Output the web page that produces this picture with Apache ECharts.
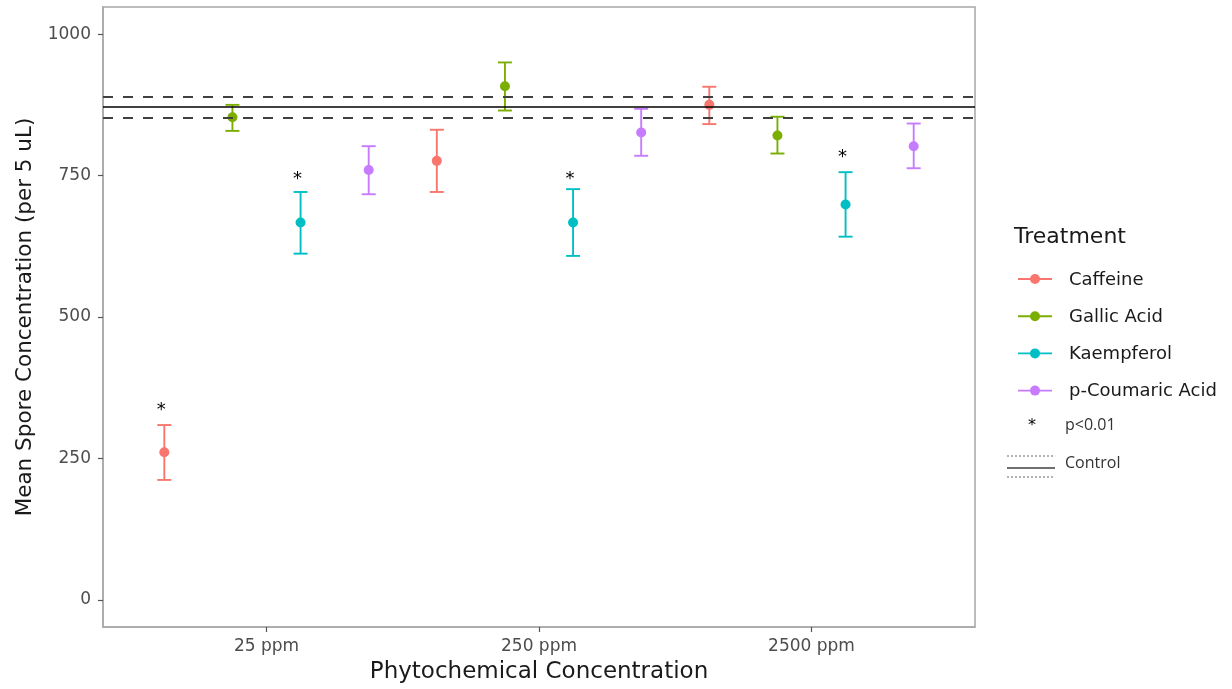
<!DOCTYPE html>
<html>
<head>
<meta charset="utf-8">
<script src="https://cdn.jsdelivr.net/npm/echarts@6/dist/echarts.min.js"></script>
<style>
  html, body { margin: 0; padding: 0; background: #fff; }
  #chart { width: 1232px; height: 689px; }
</style>
</head>
<body>
<div id="chart"></div>
<script>
// concentrations on the x axis
var concentrations = ['25 ppm', '250 ppm', '2500 ppm'];
var treatments = ['Caffeine', 'Gallic Acid', 'Kaempferol', 'p-Coumaric Acid'];
var colors = ['#F8766D', '#7CAE00', '#00BFC4', '#C77CFF'];

// mean spore concentration and error bar ends, one value per concentration
var caffeineMean = [261, 776, 875];
var caffeineLow = [212, 721, 841];
var caffeineHigh = [309, 831, 907];

var gallicMean = [853, 908, 821];
var gallicLow = [829, 865, 789];
var gallicHigh = [875, 950, 854];

var kaempferolMean = [667, 667, 699];
var kaempferolLow = [612, 608, 642];
var kaempferolHigh = [721, 726, 756];

var coumaricMean = [760, 826, 802];
var coumaricLow = [717, 785, 763];
var coumaricHigh = [802, 868, 842];

// where the "*" (p<0.01) marks sit, null = none
var caffeineStar = [342, null, null];
var gallicStar = [null, null, null];
var kaempferolStar = [750, 750, 789];
var coumaricStar = [null, null, null];

// control mean and its band
var controlMean = 871;
var controlLow = 852;
var controlHigh = 890;

var yTicks = [0, 250, 500, 750, 1000];

var means = [caffeineMean, gallicMean, kaempferolMean, coumaricMean];
var lows = [caffeineLow, gallicLow, kaempferolLow, coumaricLow];
var highs = [caffeineHigh, gallicHigh, kaempferolHigh, coumaricHigh];
var stars = [caffeineStar, gallicStar, kaempferolStar, coumaricStar];
var dodge = [-0.375, -0.125, 0.125, 0.375];

var FONT = 'DejaVu Sans';

var myChart = echarts.init(document.getElementById('chart'));

var series = [];
treatments.forEach(function (name, i) {
  var rows = concentrations.map(function (c, j) {
    return [j + 1 + dodge[i], means[i][j], lows[i][j], highs[i][j]];
  });
  series.push({
    name: name,
    type: 'custom',
    itemStyle: { color: colors[i] },
    encode: { x: 0, y: [1, 2, 3] },
    data: rows,
    z: 2,
    renderItem: function (params, api) {
      var x = api.value(0);
      var pM = api.coord([x, api.value(1)]);
      var pLo = api.coord([x, api.value(2)]);
      var pHi = api.coord([x, api.value(3)]);
      var col = colors[i];
      var st = { stroke: col, lineWidth: 1.9 };
      return {
        type: 'group',
        children: [
          { type: 'line', shape: { x1: pLo[0], y1: pLo[1], x2: pHi[0], y2: pHi[1] }, style: st },
          { type: 'line', shape: { x1: pLo[0] - 7, y1: pLo[1], x2: pLo[0] + 7, y2: pLo[1] }, style: st },
          { type: 'line', shape: { x1: pHi[0] - 7, y1: pHi[1], x2: pHi[0] + 7, y2: pHi[1] }, style: st },
          { type: 'circle', shape: { cx: pM[0], cy: pM[1], r: 5 }, style: { fill: col } }
        ]
      };
    }
  });

  var starRows = [];
  stars[i].forEach(function (s, j) {
    if (s !== null) starRows.push([j + 1 + dodge[i], s]);
  });
  if (starRows.length) {
    series.push({
      name: name + ' sig',
      type: 'custom',
      data: starRows,
      encode: { x: 0, y: 1 },
      z: 3,
      renderItem: function (params, api) {
        var p = api.coord([api.value(0), api.value(1)]);
        return {
          type: 'text',
          x: p[0] - 3,
          y: p[1] + 4,
          style: {
            text: '*', fontFamily: FONT, fontSize: 18, fill: '#000',
            align: 'center', verticalAlign: 'middle'
          }
        };
      }
    });
  }
});

// control lines
series.push({
  name: 'Control',
  type: 'line',
  data: [],
  z: 5,
  markLine: {
    silent: true,
    symbol: 'none',
    label: { show: false },
    data: [
      { yAxis: controlMean, lineStyle: { color: '#000', type: 'solid', width: 1.5 } },
      { yAxis: controlHigh, lineStyle: { color: '#404040', type: [10, 10], width: 2 } },
      { yAxis: controlLow, lineStyle: { color: '#404040', type: [10, 10], width: 2 } }
    ]
  }
});

// legend drawn as graphics
var legend = [];
legend.push({
  type: 'text', left: 1014, top: 226,
  style: { text: 'Treatment', fontFamily: FONT, fontSize: 22, fill: '#1a1a1a' }
});
treatments.forEach(function (name, i) {
  var y = 279 + i * 37.2;
  legend.push({ type: 'line', shape: { x1: 1018, y1: y, x2: 1052, y2: y }, style: { stroke: colors[i], lineWidth: 1.9 } });
  legend.push({ type: 'circle', shape: { cx: 1035, cy: y, r: 5 }, style: { fill: colors[i] } });
  legend.push({
    type: 'text', x: 1069, y: y + 1,
    style: { text: name, fontFamily: FONT, fontSize: 18, fill: '#1a1a1a', verticalAlign: 'middle' }
  });
});
legend.push({
  type: 'text', x: 1032, y: 426,
  style: { text: '*', fontFamily: FONT, fontSize: 16, fill: '#000', align: 'center', verticalAlign: 'middle' }
});
legend.push({
  type: 'text', x: 1065, y: 425,
  style: { text: 'p<0.01', fontFamily: 'Open Sans', fontSize: 16, fill: '#333', verticalAlign: 'middle' }
});
legend.push({ type: 'line', shape: { x1: 1007, y1: 456, x2: 1055, y2: 456 }, style: { stroke: '#666', lineWidth: 1, lineDash: [2, 2] } });
legend.push({ type: 'line', shape: { x1: 1007, y1: 468, x2: 1055, y2: 468 }, style: { stroke: '#404040', lineWidth: 1.3 } });
legend.push({ type: 'line', shape: { x1: 1007, y1: 477, x2: 1055, y2: 477 }, style: { stroke: '#666', lineWidth: 1, lineDash: [2, 2] } });
legend.push({
  type: 'text', x: 1065, y: 463,
  style: { text: 'Control', fontFamily: 'Open Sans', fontSize: 16, fill: '#333', verticalAlign: 'middle' }
});

var option = {
  animation: false,
  backgroundColor: '#fff',
  textStyle: { fontFamily: FONT },
  grid: {
    left: 103, right: 257, top: 7, bottom: 61,
    show: true, borderColor: '#A8A8A8', borderWidth: 1.5, backgroundColor: 'transparent'
  },
  xAxis: {
    type: 'value',
    min: 0.4,
    max: 3.6,
    name: 'Phytochemical Concentration',
    nameLocation: 'middle',
    nameGap: 34,
    nameTextStyle: { fontFamily: FONT, fontSize: 23, color: '#1a1a1a' },
    splitLine: { show: false },
    axisLine: { show: true, onZero: false, lineStyle: { color: '#A8A8A8', width: 1.5 } },
    axisTick: {
      show: true, length: 5, customValues: [1, 2, 3],
      lineStyle: { color: '#555', width: 1.2 }
    },
    axisLabel: {
      customValues: [1, 2, 3],
      margin: 11,
      fontFamily: FONT, fontSize: 17, color: '#4D4D4D',
      formatter: function (v) { return concentrations[Math.round(v) - 1]; }
    }
  },
  yAxis: {
    type: 'value',
    min: -48,
    max: 1048,
    name: 'Mean Spore Concentration (per 5 uL)',
    nameLocation: 'middle',
    nameGap: 61,
    nameTextStyle: { fontFamily: FONT, fontSize: 21.5, color: '#1a1a1a' },
    splitLine: { show: false },
    axisLine: { show: true, onZero: false, lineStyle: { color: '#A8A8A8', width: 1.5 } },
    axisTick: {
      show: true, length: 5, customValues: yTicks,
      lineStyle: { color: '#555', width: 1.2 }
    },
    axisLabel: {
      customValues: yTicks,
      margin: 12,
      fontFamily: FONT, fontSize: 17, color: '#4D4D4D',
      formatter: function (v) { return String(v); }
    }
  },
  graphic: legend,
  series: series
};

myChart.setOption(option);
</script>
</body>
</html>
